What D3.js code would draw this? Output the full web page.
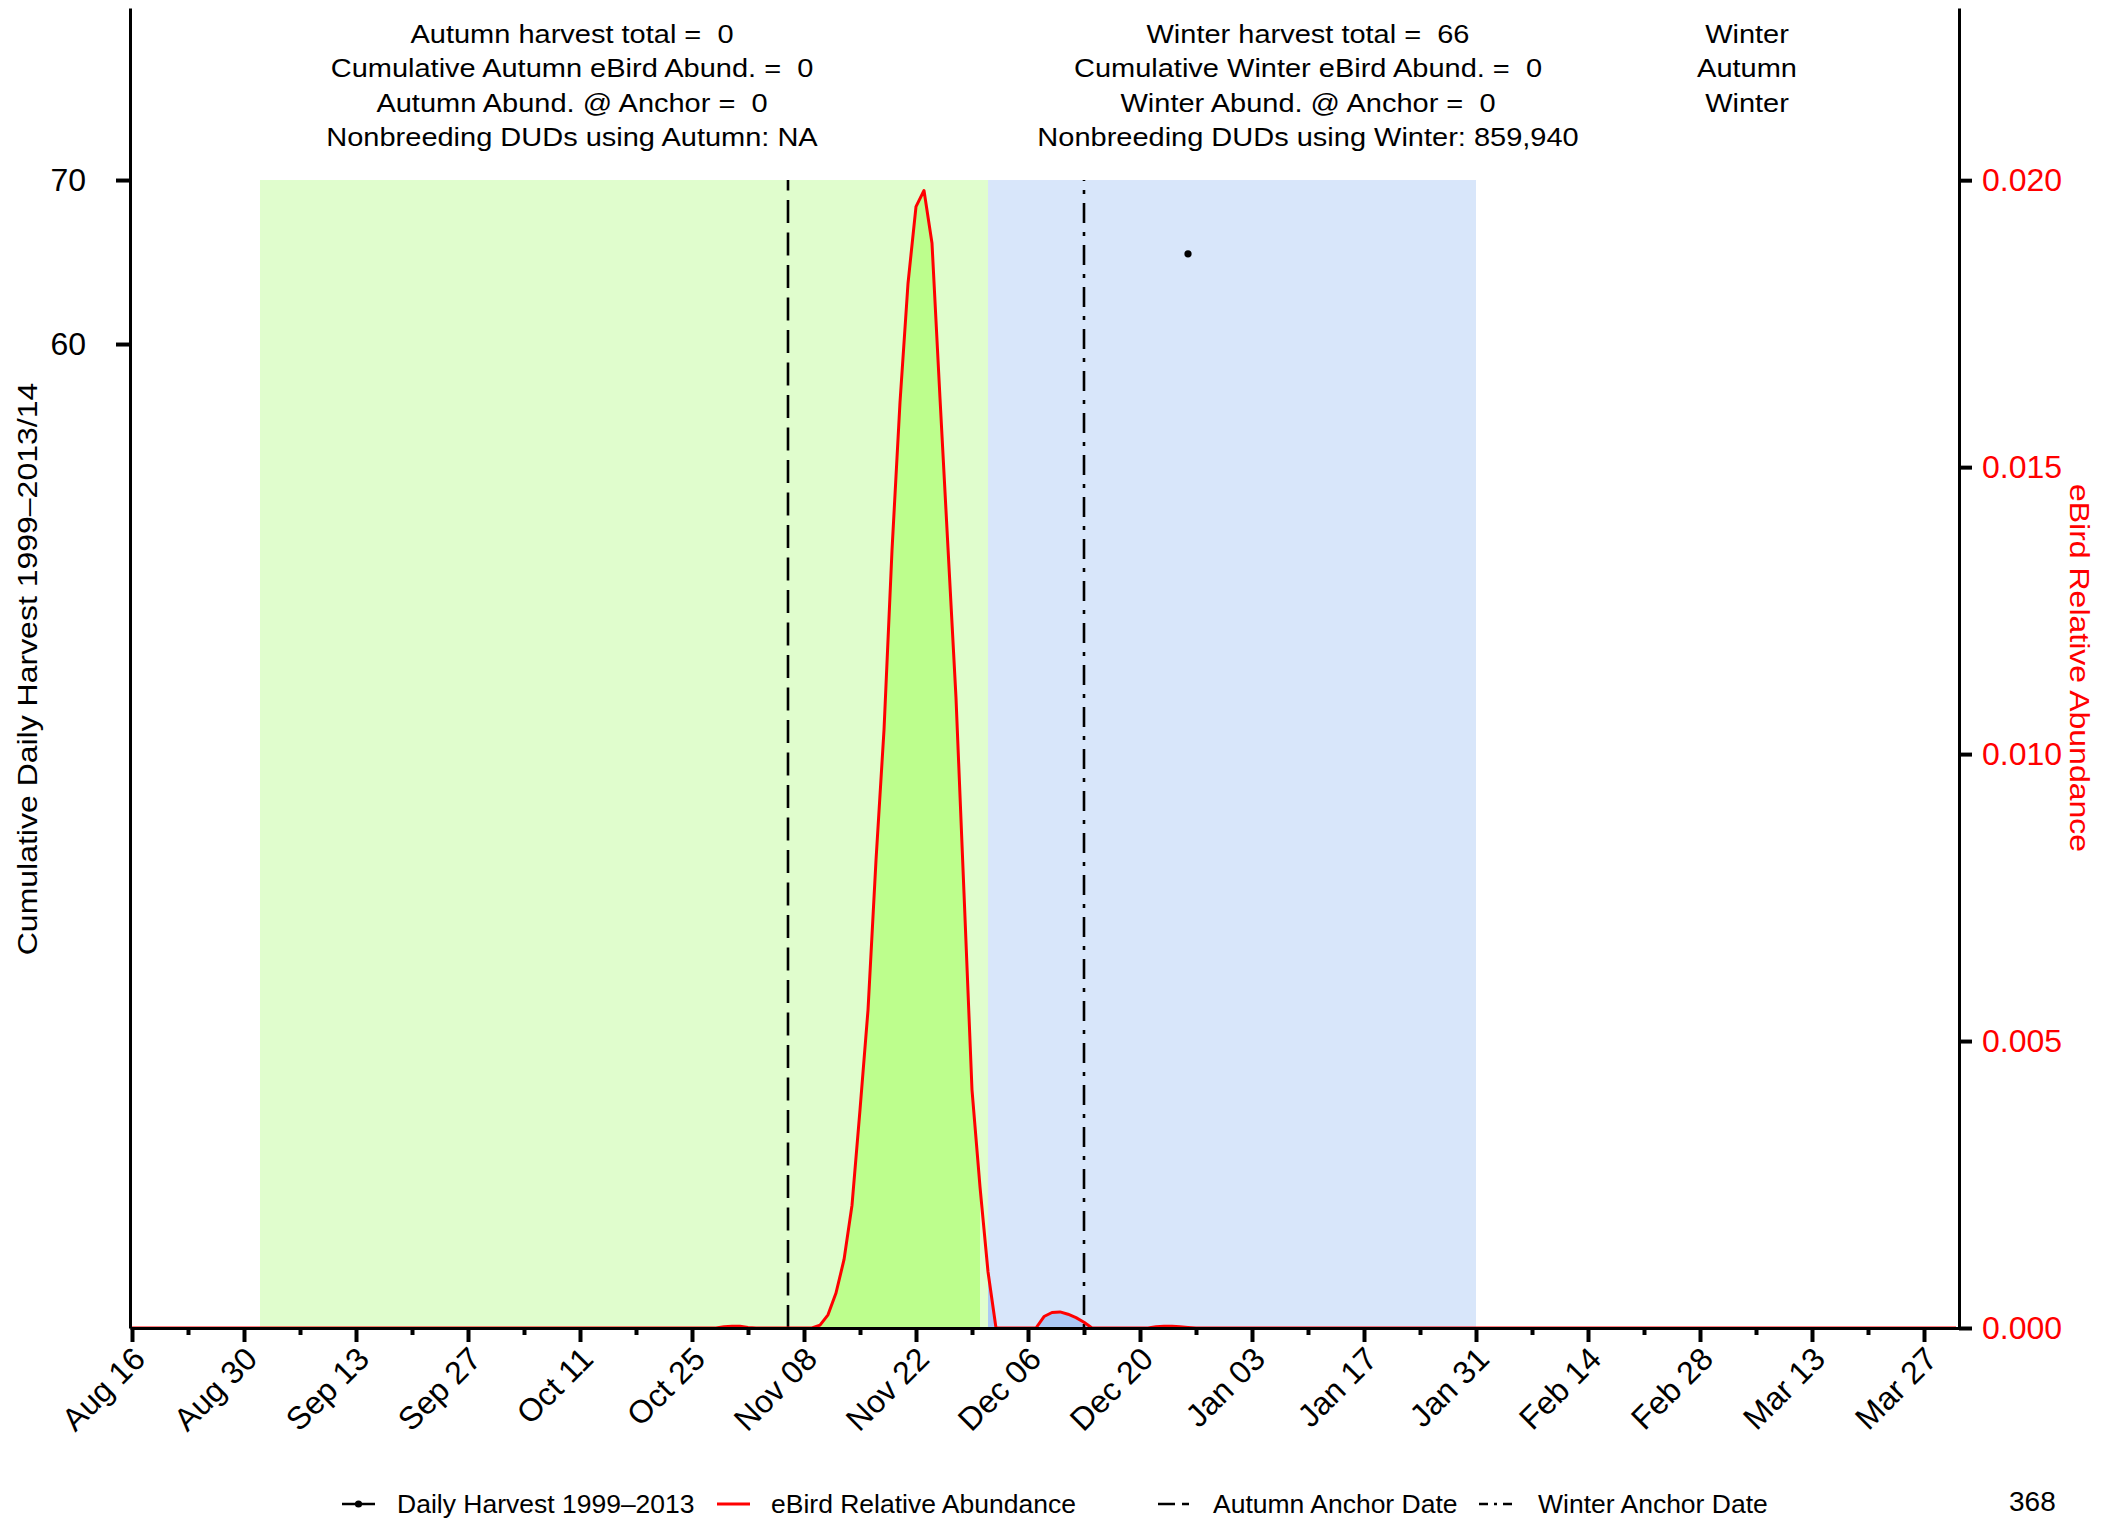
<!DOCTYPE html>
<html><head><meta charset="utf-8">
<script src="https://cdn.jsdelivr.net/npm/d3@7"></script>
<style>
body{margin:0;background:#fff}
svg{display:block}
text{font-family:"Liberation Sans",Arial,Helvetica,sans-serif;white-space:pre}
</style>
</head><body>
<svg id="chart" width="2105" height="1520"></svg>
<script>
// ---------------- DATA ----------------
const abundanceStart = "2015-08-16";   // first day of the daily eBird series
const abundance = [
  0,0,0,0,0,0,0,0,0,0,
  0,0,0,0,0,0,0,0,0,0,
  0,0,0,0,0,0,0,0,0,0,
  0,0,0,0,0,0,0,0,0,0,
  0,0,0,0,0,0,0,0,0,0,
  0,0,0,0,0,0,0,0,0,0,
  0,0,0,0,0,0,0,0,0,0,
  0,0,0,0,0.00002,0.00003,0.00003,0.00001,0,0,
  0,0,0,0,0,0,0.00005,0.00023,0.00061,0.00119,
  0.00214,0.0038,0.00554,0.00815,0.01042,0.01355,0.01613,0.0182,0.01954,0.01982,
  0.0189,0.0162,0.01359,0.01098,0.00758,0.00415,0.00246,0.00098,0,0,
  0,0,0,0,0.0002,0.00027,0.00028,0.00024,0.00018,0.0001,
  0,0,0,0,0,0,0,0,0.00002,0.00003,
  0.00003,0.00002,0.00001,0,0,0,0,0,0,0,
  0,0,0,0,0,0,0,0,0,0,
  0,0,0,0,0,0,0,0,0,0,
  0,0,0,0,0,0,0,0,0,0,
  0,0,0,0,0,0,0,0,0,0,
  0,0,0,0,0,0,0,0,0,0,
  0,0,0,0,0,0,0,0,0,0,
  0,0,0,0,0,0,0,0,0,0,
  0,0,0,0,0,0,0,0,0,0,
  0,0,0,0,0,0,0,0,0
];
const harvestDates = ["2015-12-26"];
const harvestValues = [65.5];
const seasonNames = ["Autumn", "Winter"];
const seasonStarts = ["2015-09-01", "2015-12-01"];
const seasonEnds = ["2015-12-01", "2016-01-31"];
const anchorNames = ["Autumn Anchor Date", "Winter Anchor Date"];
const anchorDates = ["2015-11-06", "2015-12-13"];
const xTickDates = ["2015-08-16","2015-08-30","2015-09-13","2015-09-27","2015-10-11","2015-10-25",
  "2015-11-08","2015-11-22","2015-12-06","2015-12-20","2016-01-03","2016-01-17","2016-01-31",
  "2016-02-14","2016-02-28","2016-03-13","2016-03-27"];
const leftTicks = [60, 70];
const rightTicks = [0, 0.005, 0.010, 0.015, 0.020];
const autumnText = ["Autumn harvest total =  0", "Cumulative Autumn eBird Abund. =  0",
  "Autumn Abund. @ Anchor =  0", "Nonbreeding DUDs using Autumn: NA"];
const winterText = ["Winter harvest total =  66", "Cumulative Winter eBird Abund. =  0",
  "Winter Abund. @ Anchor =  0", "Nonbreeding DUDs using Winter: 859,940"];
const seasonText = ["Winter", "Autumn", "Winter"];
const leftTitle = "Cumulative Daily Harvest 1999\u20132013/14";
const rightTitle = "eBird Relative Abundance";
const legendLabels = ["Daily Harvest 1999\u20132013", "eBird Relative Abundance", "Autumn Anchor Date", "Winter Anchor Date"];
const pageNumber = "368";

// ---------------- STYLE ----------------
const rectFill = ["#e0fdcd", "#d8e6fa"];
const areaFill = ["#bdfe8d", "#acc9f5"];
const anchorDash = ["23,9.5", "4,9,20,9"];
const legendDash = ["17,7", "9,6,3,6"];
const RED = "#ff0000";

// ---------------- SCALES ----------------
const svg = d3.select("#chart");
const parse = d3.utcParse("%Y-%m-%d");
const DAY = 864e5;
const t0 = parse(abundanceStart);
const abund = abundance.map((v, i) => ({date: new Date(t0.getTime() + i * DAY), v}));
const x = d3.scaleUtc()
  .domain([new Date(t0.getTime() - 0.25 * DAY), new Date(t0.getTime() + 228.375 * DAY)])
  .range([130, 1959]);
const yL = d3.scaleLinear().domain([0, 80.49]).range([1328, 8]);
const yR = d3.scaleLinear().domain([0, 0.0230]).range([1328, 8]);
const plotTop = yL(d3.max(leftTicks));

// season rectangles
const g = svg.append("g");
seasonNames.forEach((n, i) => {
  const s = parse(seasonStarts[i]), e = parse(seasonEnds[i]);
  g.append("rect").attr("x", x(s)).attr("y", plotTop)
    .attr("width", x(e) - x(s)).attr("height", yR(0) - plotTop)
    .attr("fill", rectFill[i]);
});
// filled areas under abundance within seasons
const area = d3.area().x(d => x(d.date)).y0(yR(0)).y1(d => yR(d.v));
seasonNames.forEach((n, i) => {
  const s = parse(seasonStarts[i]), e = parse(seasonEnds[i]);
  const pts = abund.filter(d => d.date >= s && d.date < e);
  g.append("path").attr("d", area(pts)).attr("fill", areaFill[i]);
});
// anchor lines
anchorDates.forEach((d, i) => {
  const xx = x(parse(d));
  g.append("line").attr("x1", xx).attr("x2", xx).attr("y1", yR(0)).attr("y2", plotTop)
    .attr("stroke", "#000").attr("stroke-width", 2.6).attr("stroke-dasharray", anchorDash[i]);
});
// abundance line
g.append("path").datum(abund)
  .attr("d", d3.line().x(d => x(d.date)).y(d => yR(d.v)))
  .attr("fill", "none").attr("stroke", RED).attr("stroke-width", 3).attr("stroke-linejoin", "round");
// harvest points
harvestDates.forEach((d, i) => {
  g.append("circle").attr("cx", x(parse(d))).attr("cy", yL(harvestValues[i])).attr("r", 3.6).attr("fill", "#000");
});

// ---------------- AXES ----------------
function styleAxis(sel, color) {
  sel.select(".domain").attr("stroke", "#000").attr("stroke-width", 3);
  sel.selectAll(".tick line").attr("stroke", "#000").attr("stroke-width", 4);
  sel.selectAll(".tick text").attr("fill", color).attr("font-size", 32)
    .attr("font-family", "'Liberation Sans', Arial, sans-serif");
}
const axL = svg.append("g").attr("transform", "translate(130,0)")
  .call(d3.axisLeft(yL).tickValues(leftTicks).tickSize(14).tickSizeOuter(0).tickPadding(30));
styleAxis(axL, "#000");
const axR = svg.append("g").attr("transform", "translate(1959,0)")
  .call(d3.axisRight(yR).tickValues(rightTicks).tickFormat(d3.format(".3f")).tickSize(13).tickSizeOuter(0).tickPadding(10));
styleAxis(axR, RED);

const majors = xTickDates.map(parse);
const minors = majors.slice(0, -1).map(d => new Date(d.getTime() + 7 * DAY));
const axBm = svg.append("g").attr("transform", "translate(0,1328)")
  .call(d3.axisBottom(x).tickValues(minors).tickSize(7).tickSizeOuter(0).tickFormat(""));
axBm.select(".domain").remove();
axBm.selectAll(".tick line").attr("stroke", "#000").attr("stroke-width", 4);
const axB = svg.append("g").attr("transform", "translate(0,1328)")
  .call(d3.axisBottom(x).tickValues(majors).tickSize(14).tickSizeOuter(0).tickFormat(""));
styleAxis(axB, "#000");
const fmt = d3.utcFormat("%b %d");
majors.forEach(d => {
  svg.append("text").attr("transform", `translate(${x(d) + 15},1361) rotate(-45)`)
    .attr("text-anchor", "end").attr("font-size", 32).text(fmt(d));
});

// axis titles
svg.append("g").attr("transform", "translate(37,669) rotate(-90) scale(1,0.86)")
  .append("text").attr("text-anchor", "middle").attr("font-size", 32).text(leftTitle);
svg.append("g").attr("transform", "translate(2070,668) rotate(90) scale(1,0.86)")
  .append("text").attr("text-anchor", "middle").attr("font-size", 32).attr("fill", RED).text(rightTitle);

// top annotation blocks
function block(lines, cx) {
  lines.forEach((t, i) => {
    svg.append("g").attr("transform", `translate(${cx},${42.7 + i * 34.5}) scale(1,0.86)`)
      .append("text").attr("text-anchor", "middle").attr("font-size", 29).text(t);
  });
}
block(autumnText, 572);
block(winterText, 1308);
block(seasonText, 1747);

// legend
const ly = 1504;
const lg = svg.append("g");
lg.append("line").attr("x1", 342).attr("x2", 375).attr("y1", ly).attr("y2", ly).attr("stroke", "#000").attr("stroke-width", 2.6);
lg.append("circle").attr("cx", 358.5).attr("cy", ly).attr("r", 3.6).attr("fill", "#000");
lg.append("line").attr("x1", 717).attr("x2", 750).attr("y1", ly).attr("y2", ly).attr("stroke", RED).attr("stroke-width", 3);
lg.append("line").attr("x1", 1158).attr("x2", 1189).attr("y1", ly).attr("y2", ly).attr("stroke", "#000").attr("stroke-width", 2.6).attr("stroke-dasharray", legendDash[0]);
lg.append("line").attr("x1", 1479).attr("x2", 1515).attr("y1", ly).attr("y2", ly).attr("stroke", "#000").attr("stroke-width", 2.6).attr("stroke-dasharray", legendDash[1]);
const legendX = [397, 771, 1213, 1538];
legendLabels.forEach((t, i) => {
  lg.append("text").attr("x", legendX[i]).attr("y", ly + 9).attr("font-size", 26.5).text(t);
});
svg.append("text").attr("x", 2009).attr("y", 1511).attr("font-size", 28)
  .attr("font-family", "'Liberation Serif', 'Times New Roman', serif").text(pageNumber);
</script>
</body></html>
